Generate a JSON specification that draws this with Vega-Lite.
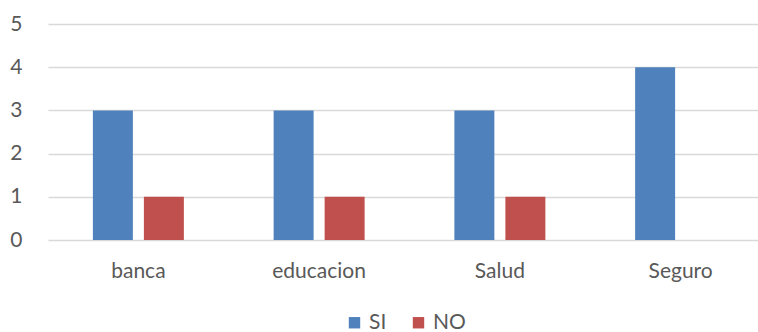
{
  "$schema": "https://vega.github.io/schema/vega-lite/v6.json",
  "autosize": {"type": "none"},
  "width": 710,
  "height": 216,
  "padding": {"left": 48, "top": 24, "right": 0, "bottom": 92},
  "background": "white",
  "data": {
    "values": [
      {"cat": "banca", "serie": "SI", "valor": 3},
      {"cat": "banca", "serie": "NO", "valor": 1},
      {"cat": "educacion", "serie": "SI", "valor": 3},
      {"cat": "educacion", "serie": "NO", "valor": 1},
      {"cat": "Salud", "serie": "SI", "valor": 3},
      {"cat": "Salud", "serie": "NO", "valor": 1},
      {"cat": "Seguro", "serie": "SI", "valor": 4},
      {"cat": "Seguro", "serie": "NO", "valor": 0}
    ]
  },
  "config": {
    "view": {"stroke": null},
    "font": "Lato"
  },
  "mark": {"type": "bar"},
  "encoding": {
    "x": {
      "field": "cat",
      "type": "nominal",
      "sort": ["banca", "educacion", "Salud", "Seguro"],
      "scale": {"paddingInner": 0, "paddingOuter": 0, "range": [0, 723]},
      "axis": {
        "title": null,
        "labelAngle": 0,
        "domain": false,
        "ticks": false,
        "labelPadding": 20,
        "labelFontSize": 21,
        "labelColor": "#595959",
        "labelFont": "Lato"
      }
    },
    "xOffset": {
      "field": "serie",
      "type": "nominal",
      "sort": ["SI", "NO"],
      "scale": {"paddingInner": 0.216, "paddingOuter": 0.88}
    },
    "y": {
      "field": "valor",
      "type": "quantitative",
      "scale": {"domain": [0, 5], "nice": false},
      "axis": {
        "title": null,
        "values": [0, 1, 2, 3, 4, 5],
        "domain": false,
        "ticks": false,
        "labelPadding": 26,
        "labelFontSize": 21,
        "labelColor": "#595959",
        "labelFont": "Lato",
        "gridColor": "#D9D9D9",
        "gridWidth": 1.3
      }
    },
    "color": {
      "field": "serie",
      "type": "nominal",
      "sort": ["SI", "NO"],
      "scale": {"domain": ["SI", "NO"], "range": ["#4F81BD", "#C0504D"]},
      "legend": {
        "title": null,
        "orient": "none",
        "direction": "horizontal",
        "legendX": 296,
        "legendY": 288,
        "symbolType": "square",
        "symbolSize": 130,
        "symbolStrokeWidth": 0,
        "labelFontSize": 21,
        "labelColor": "#595959",
        "labelFont": "Lato",
        "labelOffset": 4,
        "columnPadding": 21
      }
    }
  }
}
